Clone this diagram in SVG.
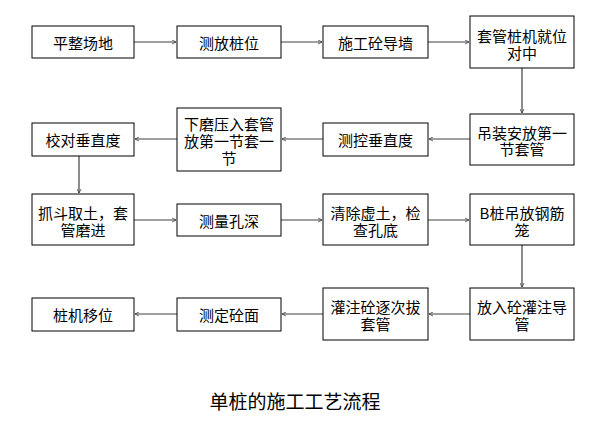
<svg xmlns="http://www.w3.org/2000/svg" width="591" height="425" viewBox="0 0 591 425">
<style>
.b{fill:#fff;stroke:#000;stroke-width:1}
.t{font-family:"Noto Sans CJK SC","Noto Sans CJK JP",sans-serif;font-size:15px;fill:#000;text-anchor:middle;dominant-baseline:central}
.c{stroke:#404040;stroke-width:1.2;fill:none;marker-end:url(#a)}
.cap{font-family:"Liberation Serif","Noto Sans CJK SC",serif;font-size:19px;fill:#000;text-anchor:middle;dominant-baseline:central}
</style>
<defs>
<marker id="a" viewBox="0 0 10 10" refX="9" refY="5" markerWidth="5" markerHeight="5" orient="auto" markerUnits="userSpaceOnUse">
<path d="M1,1 L9,5 L1,9" fill="none" stroke="#404040" stroke-width="1.6"/>
</marker>
</defs>
<rect width="591" height="425" fill="#fff"/>
<g id="connectors">
<line class="c" x1="134" y1="42" x2="176" y2="42"/>
<line class="c" x1="281" y1="42" x2="322" y2="42"/>
<line class="c" x1="428" y1="42" x2="469" y2="42"/>
<line class="c" x1="522" y1="68" x2="522" y2="113"/>
<line class="c" x1="470" y1="139" x2="429" y2="139"/>
<line class="c" x1="323" y1="139" x2="282" y2="139"/>
<line class="c" x1="177" y1="139" x2="135" y2="139"/>
<line class="c" x1="79" y1="156" x2="79" y2="193"/>
<line class="c" x1="134" y1="220" x2="176" y2="220"/>
<line class="c" x1="281" y1="220" x2="322" y2="220"/>
<line class="c" x1="428" y1="220" x2="469" y2="220"/>
<line class="c" x1="522" y1="245" x2="522" y2="287"/>
<line class="c" x1="470" y1="314" x2="429" y2="314"/>
<line class="c" x1="323" y1="314" x2="282" y2="314"/>
<line class="c" x1="177" y1="314" x2="135" y2="314"/>
</g>
<g id="n1"><rect class="b" x="32" y="26" width="102" height="32"/><text class="t" x="83" y="42">平整场地</text></g>
<g id="n2"><rect class="b" x="177" y="26" width="104" height="32"/><text class="t" x="229" y="42">测放桩位</text></g>
<g id="n3"><rect class="b" x="323" y="26" width="105" height="32"/><text class="t" x="375.5" y="42">施工砼导墙</text></g>
<g id="n4"><rect class="b" x="470" y="16" width="104" height="52"/><text class="t"><tspan x="522" y="35">套管桩机就位</tspan><tspan x="522" y="52">对中</tspan></text></g>
<g id="n5"><rect class="b" x="470" y="114" width="104" height="51"/><text class="t"><tspan x="522" y="132">吊装安放第一</tspan><tspan x="522" y="148">节套管</tspan></text></g>
<g id="n6"><rect class="b" x="323" y="123" width="105" height="33"/><text class="t" x="375.5" y="139">测控垂直度</text></g>
<g id="n7"><rect class="b" x="177" y="108" width="104" height="63"/><text class="t"><tspan x="229" y="123">下磨压入套管</tspan><tspan x="229" y="140">放第一节套一</tspan><tspan x="229" y="157">节</tspan></text></g>
<g id="n8"><rect class="b" x="32" y="123" width="102" height="33"/><text class="t" x="83" y="139">校对垂直度</text></g>
<g id="n9"><rect class="b" x="32" y="194" width="102" height="51"/><text class="t"><tspan x="83" y="212">抓斗取土，套</tspan><tspan x="83" y="229">管磨进</tspan></text></g>
<g id="n10"><rect class="b" x="177" y="204" width="104" height="32"/><text class="t" x="229" y="220">测量孔深</text></g>
<g id="n11"><rect class="b" x="323" y="194" width="105" height="51"/><text class="t"><tspan x="375.5" y="212">清除虚土，检</tspan><tspan x="375.5" y="229">查孔底</tspan></text></g>
<g id="n12"><rect class="b" x="470" y="194" width="104" height="51"/><text class="t"><tspan x="522" y="212">B桩吊放钢筋</tspan><tspan x="522" y="229">笼</tspan></text></g>
<g id="n13"><rect class="b" x="470" y="288" width="104" height="52"/><text class="t"><tspan x="522" y="306">放入砼灌注导</tspan><tspan x="522" y="323">管</tspan></text></g>
<g id="n14"><rect class="b" x="323" y="288" width="105" height="52"/><text class="t"><tspan x="375.5" y="306">灌注砼逐次拔</tspan><tspan x="375.5" y="323">套管</tspan></text></g>
<g id="n15"><rect class="b" x="177" y="298" width="104" height="33"/><text class="t" x="229" y="314">测定砼面</text></g>
<g id="n16"><rect class="b" x="32" y="298" width="102" height="33"/><text class="t" x="83" y="314">桩机移位</text></g>
<text class="cap" x="295" y="402">单桩的施工工艺流程</text>
</svg>
